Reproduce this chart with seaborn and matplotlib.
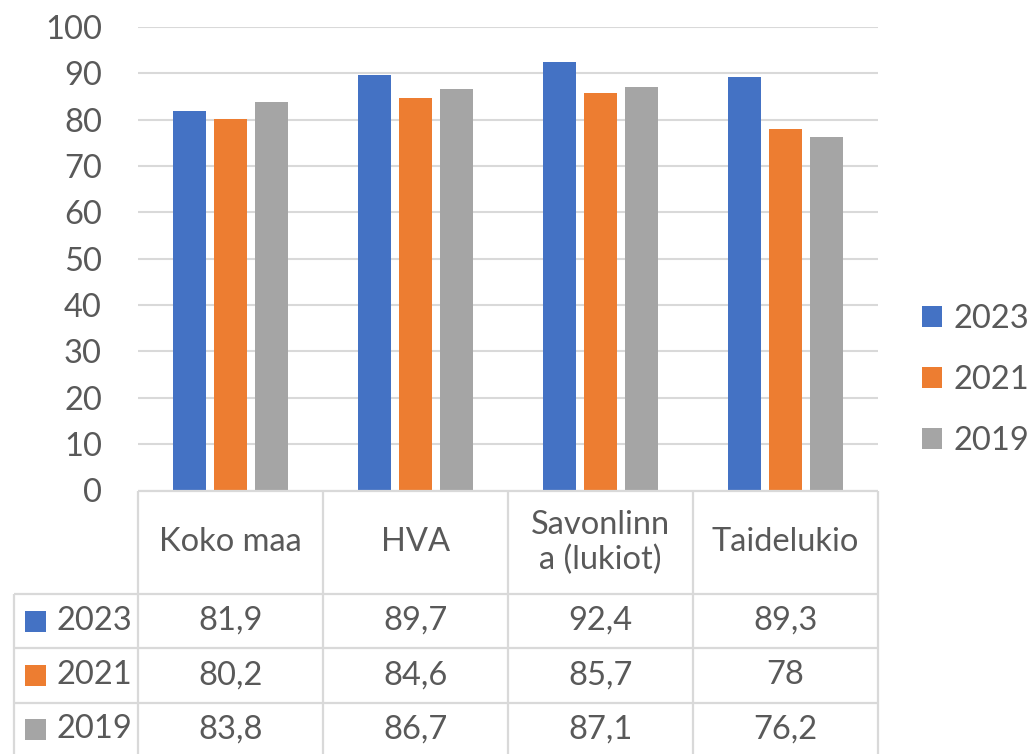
import matplotlib
matplotlib.use("Agg")
import matplotlib.pyplot as plt
import seaborn as sns
import pandas as pd
from matplotlib.patches import Rectangle, Patch

categories = ["Koko maa", "HVA", "Savonlinna (lukiot)", "Taidelukio"]
header_labels = ["Koko maa", "HVA", "Savonlinn\na (lukiot)", "Taidelukio"]
years = ["2023", "2021", "2019"]
values_2023 = [81.9, 89.7, 92.4, 89.3]
values_2021 = [80.2, 84.6, 85.7, 78.0]
values_2019 = [83.8, 86.7, 87.1, 76.2]
table_text = {
    "2023": ["81,9", "89,7", "92,4", "89,3"],
    "2021": ["80,2", "84,6", "85,7", "78"],
    "2019": ["83,8", "86,7", "87,1", "76,2"],
}
yticks = [0, 10, 20, 30, 40, 50, 60, 70, 80, 90, 100]
colors = ["#4472C4", "#ED7D31", "#A5A5A5"]

sns.set_style("white")
plt.rcParams["font.family"] = ["Lato", "DejaVu Sans"]
TXT = "#595959"
GRID = "#d9d9d9"
FS = 23.5

rows = []
for y, vals in zip(years, [values_2023, values_2021, values_2019]):
    for c, v in zip(categories, vals):
        rows.append({"cat": c, "year": y, "value": v})
df = pd.DataFrame(rows)

W, H = 1033, 754
fig = plt.figure(figsize=(W / 100, H / 100), dpi=100)
ax = fig.add_axes([138 / W, (H - 490.5) / H, 740 / W, 463.5 / H])

sns.barplot(data=df, x="cat", y="value", hue="year", hue_order=years,
            order=categories, palette=colors, width=0.665, gap=0.21,
            ax=ax, legend=False, saturation=1, linewidth=0)
ax.set_xlim(-0.5, 3.5)
ax.set_ylim(0, 100)
ax.set_yticks(yticks)
ax.set_yticklabels([str(t) for t in yticks], fontsize=FS, color=TXT)
ax.tick_params(axis="y", length=0, pad=26)
ax.set_xticks([])
ax.set_xlabel("")
ax.set_ylabel("")
for s in ax.spines.values():
    s.set_visible(False)
ax.yaxis.grid(True, color=GRID, linewidth=1.5)
ax.set_axisbelow(True)

# right legend
handles = [Patch(facecolor=c, edgecolor="none", label=y) for c, y in zip(colors, years)]
fig.legend(handles=handles, loc="center left", bbox_to_anchor=(922 / W, (H - 380) / H),
           frameon=False, fontsize=FS, handlelength=0.62, handleheight=0.62,
           handletextpad=0.35, labelspacing=0.95, labelcolor=TXT,
           borderpad=0, borderaxespad=0)

# data table
tax = fig.add_axes([138 / W, 0, 740 / W, 263.5 / H])
tax.set_xlim(-0.5, 3.5)
tax.set_ylim(0, 263.5)
tax.axis("off")
px = 1 / 185.0
left_x = -0.5 - (138 - 13.7) * px
y_top, y_r1, y_r2, y_r3 = 263.5, 754 - 594, 754 - 648, 754 - 702.5
lkw = dict(color=GRID, linewidth=1.6, clip_on=False, solid_capstyle="butt")
tax.plot([-0.5, 3.5], [y_top, y_top], **lkw)
for yy in [y_r1, y_r2, y_r3]:
    tax.plot([left_x, 3.5], [yy, yy], **lkw)
for i in range(len(categories) + 1):
    tax.plot([i - 0.5, i - 0.5], [-5, y_top], **lkw)
tax.plot([left_x, left_x], [-5, y_r1], **lkw)

hdr_y = (y_top + y_r1) / 2
for i, lab in enumerate(header_labels):
    tax.text(i, hdr_y, lab, ha="center", va="center", fontsize=FS, color=TXT,
             linespacing=1.2, clip_on=False)
row_centers = [(y_r1 + y_r2) / 2, (y_r2 + y_r3) / 2, (y_r3 + 0) / 2 - 1]
sq = 21
for r, (y, c) in enumerate(zip(years, colors)):
    yc = row_centers[r]
    tax.add_patch(Rectangle((left_x + (25 - 13.7) * px, yc - sq / 2), sq * px, sq,
                            facecolor=c, edgecolor="none", clip_on=False))
    tax.text(left_x + (56 - 13.7) * px, yc, y, ha="left", va="center",
             fontsize=FS, color=TXT, clip_on=False)
    for i, t in enumerate(table_text[y]):
        tax.text(i, yc, t, ha="center", va="center", fontsize=FS, color=TXT, clip_on=False)

fig.savefig("out.png", dpi=100)
